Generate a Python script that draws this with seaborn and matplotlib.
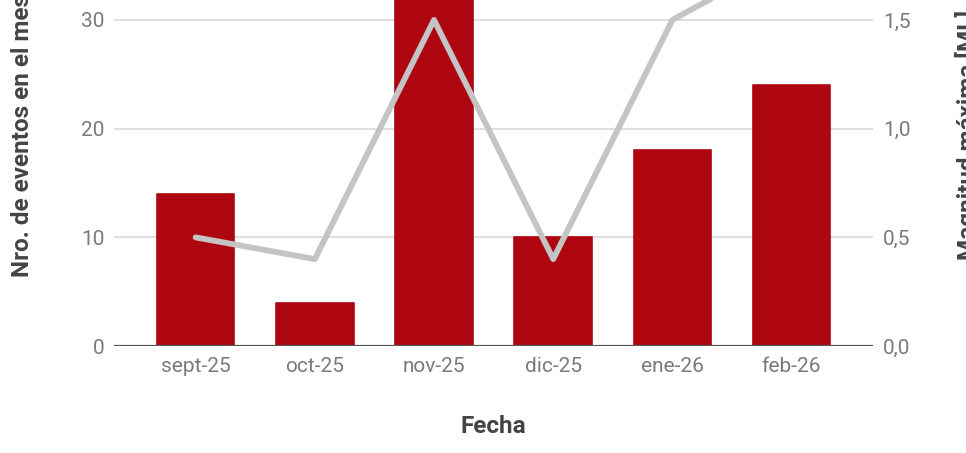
import matplotlib
matplotlib.use("Agg")
import matplotlib.pyplot as plt
import seaborn as sns
from matplotlib.ticker import FuncFormatter

# Monthly seismic summary
months = ["sept-25", "oct-25", "nov-25", "dic-25", "ene-26", "feb-26"]
event_counts = [14, 4, 37, 10, 18, 24]
max_magnitude = [0.5, 0.4, 1.5, 0.4, 1.5, 1.8]

left_ticks = [0, 10, 20, 30]
right_ticks = [0.0, 0.5, 1.0, 1.5]

BAR_RED = "#ad0610"
LINE_GREY = "#c4c4c4"
GRID_GREY = "#d6d6d6"
TICK_GREY = "#7a7a7a"
LABEL_DARK = "#444444"

sns.set_theme(style="white")
plt.rcParams["font.family"] = ["Roboto", "DejaVu Sans"]

fig = plt.figure(figsize=(9.66, 4.53), dpi=100)
ax = fig.add_axes([0.118, 0.236, 0.786, 0.960])

sns.barplot(x=months, y=event_counts, color=BAR_RED, saturation=1,
            width=0.65, ax=ax, zorder=2)
for bar in ax.patches:
    bar.set_edgecolor(BAR_RED)
    bar.set_linewidth(1.2)
    bar.set_joinstyle("round")

ax.set_ylim(0, 40)
ax.set_xlim(-0.685, 5.685)
ax.set_yticks(left_ticks)
ax.yaxis.grid(True, color=GRID_GREY, linewidth=1.1, zorder=0)
ax.set_axisbelow(True)
for s in ax.spines.values():
    s.set_visible(False)
ax.axhline(0, color="#555555", linewidth=1.6, zorder=3)

ax2 = ax.twinx()
sns.lineplot(x=months, y=max_magnitude, sort=False, color=LINE_GREY,
             linewidth=4.2, ax=ax2, zorder=4)
ax2.set_ylim(0, 2.0)
ax2.set_yticks(right_ticks)
ax2.yaxis.set_major_formatter(FuncFormatter(lambda v, p: f"{v:.1f}".replace(".", ",")))
for s in ax2.spines.values():
    s.set_visible(False)

for a in (ax, ax2):
    a.tick_params(axis="both", length=0, labelsize=15, labelcolor=TICK_GREY)
ax.tick_params(axis="y", pad=7)
ax2.tick_params(axis="y", pad=7)
ax.tick_params(axis="x", pad=8)

label_font = dict(fontsize=17.5, fontweight="bold", color=LABEL_DARK)
ax.set_xlabel("Fecha", **label_font)
ax.set_ylabel("Nro. de eventos en el mes", **label_font)
ax2.set_ylabel("Magnitud máxima [ML]", rotation=90, **label_font)
ax.xaxis.set_label_coords(0.499, -0.159)
ax.yaxis.set_label_coords(-0.106, 0.485)
ax2.yaxis.set_label_coords(1.108, 0.485)

fig.savefig("out.png", dpi=100)
